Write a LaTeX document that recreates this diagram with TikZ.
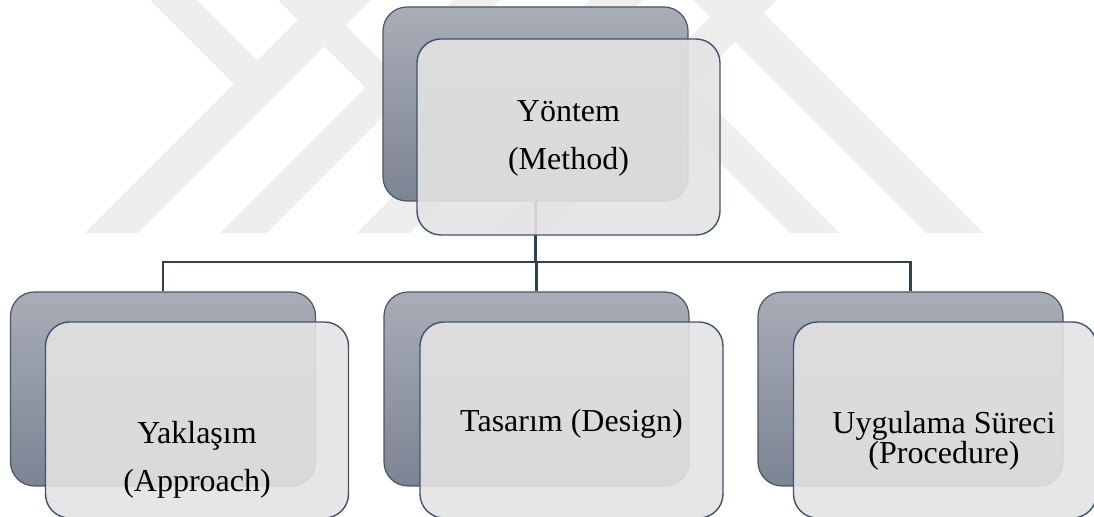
\documentclass[tikz,border=0pt]{standalone}
\usepackage{fontspec}
\setmainfont{Liberation Serif}
\usetikzlibrary{positioning, calc}

\definecolor{backtop}{RGB}{168,173,183}
\definecolor{backbot}{RGB}{124,131,146}
\definecolor{backline}{RGB}{78,85,98}
\definecolor{frontfill}{RGB}{227,227,227}
\definecolor{frontline}{RGB}{66,82,106}
\definecolor{connline}{RGB}{50,64,84}
\definecolor{markgray}{RGB}{238,238,238}

\begin{document}
\begin{tikzpicture}[x=0.5pt, y=-0.5pt,
    backbox/.style={draw=backline, line width=0.6pt, rounded corners=12pt,
        top color=backtop, bottom color=backbot,
        minimum width=152.5pt, minimum height=97pt, inner sep=0pt},
    frontbox/.style={draw=frontline, line width=0.7pt, rounded corners=12pt,
        fill=frontfill, fill opacity=0.9,
        minimum width=151.5pt, minimum height=98pt, inner sep=0pt},
    lbl/.style={font=\fontsize{16}{15}\selectfont, align=center, inner sep=0pt},
    conn/.style={draw=connline, line width=1.2pt},
    wm/.style={fill=markgray}]
    \useasboundingbox (0,0) rectangle (1094,517);

    % faint watermark behind the chart
    \begin{scope}
        \clip (0,0) rectangle (1094,233);
        \fill[wm] (150,0) -- (197,0) -- (257.5,60.5) -- (234,84) -- cycle;
        \fill[wm] (278,0) -- (320,0) -- (440,120) -- (398,120) -- cycle;
        \fill[wm] (318,0) -- (371,0) -- (138,233) -- (85,233) -- cycle;
        \fill[wm] (453,0) -- (500,0) -- (267,233) -- (220,233) -- cycle;
        \fill[wm] (590,0) -- (643,0) -- (410,233) -- (357,233) -- cycle;
        \fill[wm] (600,43) -- (624.5,18.5) -- (839,233) -- (790,233) -- cycle;
        \fill[wm] (727,0) -- (777,0) -- (544,233) -- (494,233) -- cycle;
        \fill[wm] (693,0) -- (750,0) -- (983,233) -- (926,233) -- cycle;
    \end{scope}

    % back boxes
    \node[backbox] (methodBack) at (535.5,104) {};
    \node[backbox] (approachBack) at (163,389) {};
    \node[backbox] (designBack) at (536.5,389) {};
    \node[backbox] (procBack) at (910.5,389) {};

    % connectors
    \coordinate (bus) at (0,262);
    \draw[conn] (methodBack.south) -- (methodBack.south |- bus);
    \draw[conn] (approachBack.north) |- (procBack.north |- bus) -- (procBack.north);
    \draw[conn] (designBack.north) -- (designBack.north |- bus);

    % front boxes
    \node[frontbox] (method) at (568.5,137) {};
    \node[frontbox] (approach) at (197,420) {};
    \node[frontbox] (design) at (571.5,420) {};
    \node[frontbox] (proc) at (945,420) {};

    % labels
    \node[lbl] (methodText) at ($(method.center)+(0,1)$) {Yöntem\\[9pt](Method)};
    \node[lbl] (approachText) at ($(approach.center)+(0,40)$) {Yaklaşım\\[9pt](Approach)};
    \node[lbl] (designText) at ($(design.center)+(0,4)$) {Tasarım (Design)};
    \node[lbl] (procText) at ($(proc.center)+(-1,21)$) {Uygulama Süreci\\(Procedure)};
\end{tikzpicture}
\end{document}
